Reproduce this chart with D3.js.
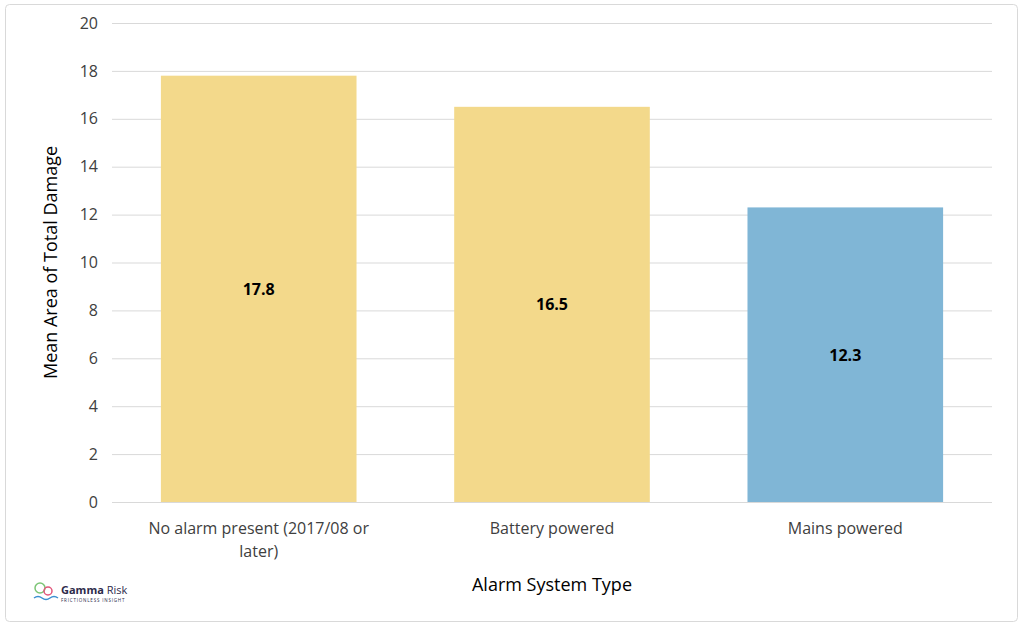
<!DOCTYPE html>
<html><head><meta charset="utf-8">
<script src="https://cdn.jsdelivr.net/npm/d3@7"></script>
<style>body{margin:0;background:#fff;font-family:"Open Sans","Liberation Sans",sans-serif}</style>
</head><body>
<svg width="1024" height="627"></svg>
<script>
const categories = [["No alarm present (2017/08 or", "later)"], ["Battery powered"], ["Mains powered"]];
const values = [17.8, 16.5, 12.3];
const barColors = ["#f3d98b", "#f3d98b", "#80b6d6"];
const yTicks = [0, 2, 4, 6, 8, 10, 12, 14, 16, 18, 20];

const svg = d3.select("svg");
svg.append("rect").attr("x", 5.5).attr("y", 4.5).attr("width", 1012).attr("height", 617)
    .attr("rx", 4).attr("fill", "#fff").attr("stroke", "#d9d9d9");

const plotL = 112, plotR = 992, plotT = 23, plotB = 502;
const x = d3.scaleBand().domain(d3.range(values.length)).range([plotL, plotR]).paddingInner(0.333).paddingOuter(0.1667);
const y = d3.scaleLinear().domain([0, 20]).range([plotB, plotT]);

// grid
const g = svg.append("g").attr("transform", `translate(${plotL},0)`)
    .call(d3.axisLeft(y).tickValues(yTicks).tickSize(-(plotR - plotL)).tickPadding(14));
g.select(".domain").remove();
g.selectAll(".tick line").attr("stroke", "#d9d9d9");
g.selectAll(".tick text").attr("font-size", 16).attr("fill", "#404040").attr("font-family", "Open Sans");

// bars
svg.selectAll("rect.bar").data(values).enter().append("rect")
    .attr("x", (d, i) => x(i)).attr("width", x.bandwidth())
    .attr("y", d => y(d)).attr("height", d => plotB - y(d))
    .attr("fill", (d, i) => barColors[i]);

svg.selectAll("text.val").data(values).enter().append("text")
    .attr("x", (d, i) => x(i) + x.bandwidth() / 2)
    .attr("y", d => (y(d) + plotB) / 2 + 6)
    .attr("text-anchor", "middle").attr("font-size", 16).attr("font-weight", "bold")
    .attr("fill", "#000").text(d => d.toFixed(1));

// category labels
categories.forEach((lines, i) => {
    lines.forEach((t, j) => {
        svg.append("text").attr("x", x(i) + x.bandwidth() / 2).attr("y", 534 + j * 23)
            .attr("text-anchor", "middle").attr("font-size", 16).attr("fill", "#404040").text(t);
    });
});

svg.append("text").attr("x", (plotL + plotR) / 2).attr("y", 591).attr("text-anchor", "middle")
    .attr("font-size", 18).attr("fill", "#000").text("Alarm System Type");
svg.append("text").attr("transform", `translate(57,${(plotT + plotB) / 2}) rotate(-90)`)
    .attr("text-anchor", "middle").attr("font-size", 18).attr("fill", "#000").text("Mean Area of Total Damage");

// logo
const lg = svg.append("g").attr("transform", "translate(34,583)");
lg.append("circle").attr("cx", 6).attr("cy", 5).attr("r", 5).attr("fill", "none").attr("stroke", "#7cc576").attr("stroke-width", 1.5);
lg.append("circle").attr("cx", 14).attr("cy", 8).attr("r", 4).attr("fill", "none").attr("stroke", "#e2557a").attr("stroke-width", 1.5);
lg.append("path").attr("d", "M0 15 q4 -3 8 0 t8 0 t8 0").attr("fill", "none").attr("stroke", "#3b8fd0").attr("stroke-width", 1.5);
lg.append("text").attr("x", 27).attr("y", 11).attr("font-size", 11).attr("font-weight", "bold").attr("fill", "#2d2a4a").text("Gamma")
    .append("tspan").attr("font-weight", "normal").text(" Risk");
lg.append("text").attr("x", 27).attr("y", 19).attr("font-size", 4.5).attr("letter-spacing", 0.8).attr("fill", "#2d2a4a").text("FRICTIONLESS INSIGHT");
</script>
</body></html>
